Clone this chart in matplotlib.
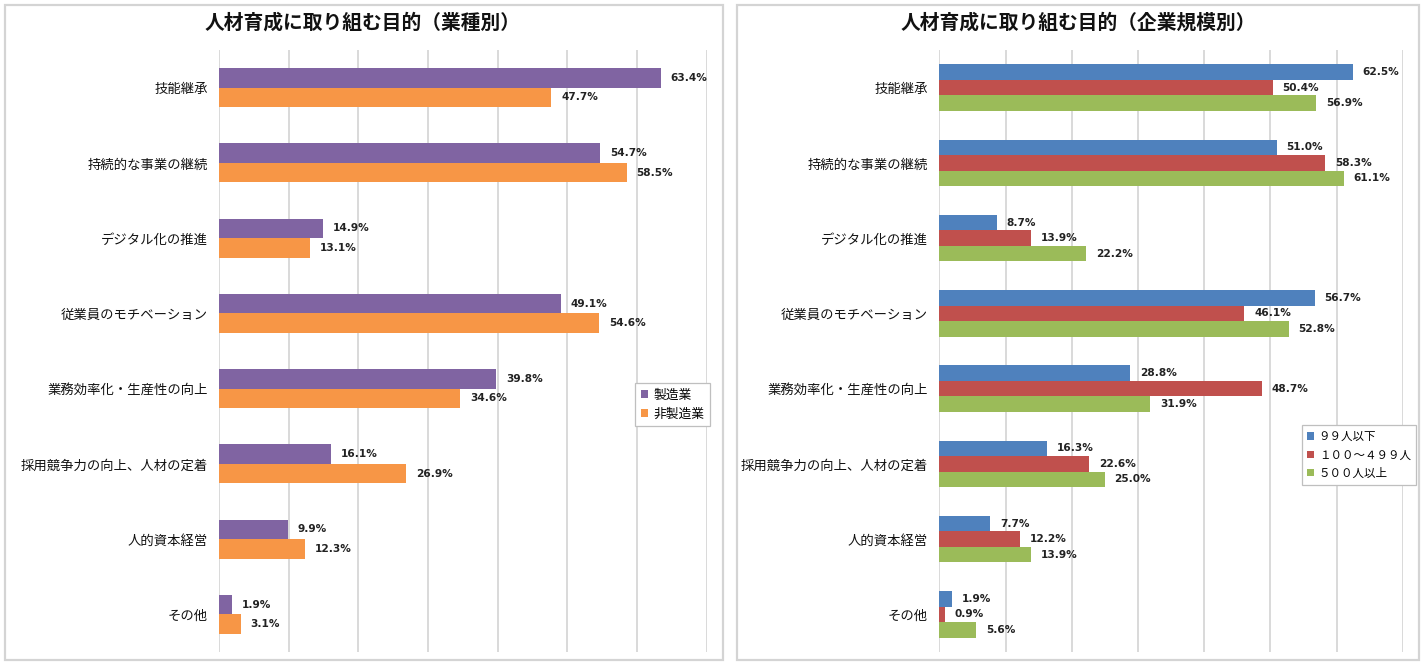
import matplotlib
matplotlib.use("Agg")
import matplotlib.pyplot as plt
from matplotlib.patches import Rectangle

plt.rcParams['font.family'] = ['Noto Sans CJK JP', 'DejaVu Sans']

# 取り組む目的（共通の項目）
categories = [
    "技能継承",
    "持続的な事業の継続",
    "デジタル化の推進",
    "従業員のモチベーション",
    "業務効率化・生産性の向上",
    "採用競争力の向上、人材の定着",
    "人的資本経営",
    "その他",
]

# 業種別
industry_labels = ["製造業", "非製造業"]
manufacturing = [63.4, 54.7, 14.9, 49.1, 39.8, 16.1, 9.9, 1.9]
non_manufacturing = [47.7, 58.5, 13.1, 54.6, 34.6, 26.9, 12.3, 3.1]

# 企業規模別
size_labels = ["９９人以下", "１００～４９９人", "５００人以上"]
size_small = [62.5, 51.0, 8.7, 56.7, 28.8, 16.3, 7.7, 1.9]
size_mid = [50.4, 58.3, 13.9, 46.1, 48.7, 22.6, 12.2, 0.9]
size_large = [56.9, 61.1, 22.2, 52.8, 31.9, 25.0, 13.9, 5.6]

W, H = 1423, 664
fig = plt.figure(figsize=(W / 100, H / 100), dpi=100)
fig.patch.set_facecolor("white")


def px_box(x0, y0, x1, y1):
    # pixel box (top-left origin) -> figure fraction rect
    return [x0 / W, 1 - y1 / H, (x1 - x0) / W, (y1 - y0) / H]


# panel frames
for x0, x1 in [(5, 723), (737, 1419)]:
    fig.patches.append(Rectangle((x0 / W, 1 - 660 / H), (x1 - x0) / W, 655 / H,
                                 transform=fig.transFigure, fill=False,
                                 edgecolor="#d4d4d4", linewidth=1.6))


def draw_panel(ax, series, labels, colors, bar_h, title, title_x, legend_pos, legend_fs):
    n = len(series)
    ys = range(len(categories))
    for i, (vals, lab, col) in enumerate(zip(series, labels, colors)):
        offs = (i - (n - 1) / 2) * bar_h
        pos = [y + offs for y in ys]
        bars = ax.barh(pos, vals, height=bar_h, color=col, label=lab, zorder=2)
        for b, v in zip(bars, vals):
            ax.annotate(f"{v:.1f}%", (b.get_width(), b.get_y() + b.get_height() / 2),
                        xytext=(7, 0), textcoords="offset points",
                        ha="left", va="center", fontsize=7.6, fontweight="bold",
                        family="DejaVu Sans", color="#222222")
    ax.set_xlim(0, 70)
    ax.set_xticks(range(0, 71, 10))
    ax.set_ylim(len(categories) - 0.5, -0.5)
    ax.set_yticks(list(ys))
    ax.set_yticklabels(categories, fontsize=9.6, color="#111111")
    ax.tick_params(axis="both", length=0, pad=8)
    ax.tick_params(axis="x", labelbottom=False)
    ax.grid(axis="x", color="#d9d9d9", linewidth=1.4, zorder=0)
    ax.set_axisbelow(True)
    for s in ax.spines.values():
        s.set_visible(False)
    fig.text(title_x / W, 1 - 23 / H, title, ha="center", va="center",
             fontsize=14.2, fontweight="bold", color="#111111")
    leg = ax.legend(loc="upper left", bbox_to_anchor=legend_pos,
                    bbox_transform=fig.transFigure, borderaxespad=0,
                    fontsize=legend_fs, handlelength=0.6, handleheight=0.6,
                    handletextpad=0.4, labelspacing=0.45, borderpad=0.45,
                    fancybox=False, framealpha=1)
    leg.get_frame().set_edgecolor("#bfbfbf")
    leg.get_frame().set_linewidth(0.9)


ax1 = fig.add_axes(px_box(219, 50, 706.7, 652))
draw_panel(ax1, [manufacturing, non_manufacturing], industry_labels,
           ["#8064A2", "#F79646"], 0.26,
           "人材育成に取り組む目的（業種別）", 363, (635 / W, 1 - 383 / H), 9.2)

ax2 = fig.add_axes(px_box(939.3, 50, 1402.7, 652))
draw_panel(ax2, [size_small, size_mid, size_large], size_labels,
           ["#4F81BD", "#C0504D", "#9BBB59"], 0.206,
           "人材育成に取り組む目的（企業規模別）", 1078, (1302 / W, 1 - 425 / H), 8.3)

fig.savefig("out.png", dpi=100, facecolor="white")
